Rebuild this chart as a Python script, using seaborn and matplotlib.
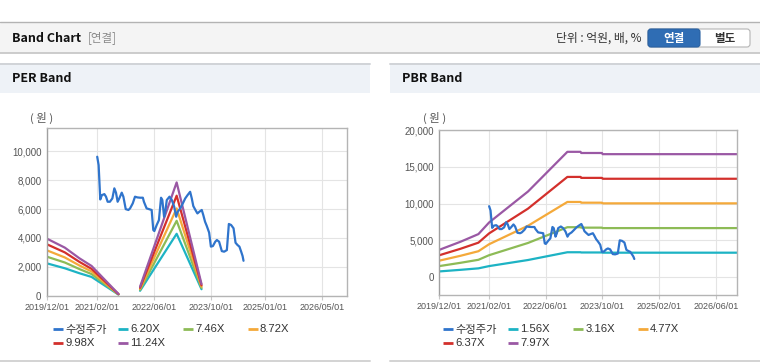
import numpy as np
import pandas as pd
import matplotlib
matplotlib.use("Agg")
import matplotlib.pyplot as plt
import matplotlib.dates as mdates
from matplotlib.patches import Rectangle, FancyBboxPatch
from matplotlib.ticker import FuncFormatter
import seaborn as sns

# ---------------- data ----------------
price_dates = [
    "2021-02-01", "2021-02-13", "2021-02-27", "2021-03-13", "2021-04-03", "2021-04-17",
    "2021-05-01", "2021-05-20", "2021-06-10", "2021-06-27", "2021-07-11", "2021-07-25",
    "2021-08-08", "2021-08-29", "2021-09-12", "2021-10-02", "2021-10-25", "2021-11-08",
    "2021-12-01", "2021-12-20", "2022-01-10", "2022-02-02", "2022-02-25", "2022-03-06",
    "2022-03-29", "2022-04-18", "2022-05-11", "2022-05-25", "2022-06-03", "2022-06-23",
    "2022-07-12", "2022-07-30", "2022-08-10", "2022-08-25", "2022-09-06", "2022-09-17",
    "2022-10-10", "2022-10-30", "2022-11-19", "2022-12-06", "2022-12-19", "2023-01-10",
    "2023-02-01", "2023-02-21", "2023-03-13", "2023-04-04", "2023-04-18", "2023-05-01",
    "2023-05-19", "2023-06-05", "2023-06-22", "2023-07-12", "2023-07-25", "2023-08-09",
    "2023-08-24", "2023-09-13", "2023-09-28", "2023-10-15", "2023-11-04", "2023-11-18",
    "2023-12-07", "2023-12-30", "2024-01-19", "2024-02-11", "2024-02-28", "2024-03-18",
    "2024-04-08", "2024-04-25", "2024-05-12", "2024-05-28", "2024-06-12", "2024-06-24",
    "2024-07-02",
]
price_values = [
    9630, 9050, 6670, 6970, 7040, 6860,
    6510, 6510, 6740, 7440, 7140, 6510,
    6740, 7140, 6860, 6000, 5940, 6050,
    6400, 6860, 6810, 6790, 6790, 6510,
    6050, 6000, 5940, 4550, 4480, 4900,
    5240, 6790, 6630, 5470, 5940, 6630,
    6860, 6630, 6170, 5470, 5820, 6050,
    6400, 6740, 6970, 7200, 6740, 6210,
    5940, 5700, 5820, 5940, 5590, 5130,
    4830, 4370, 3400, 3440, 3740, 3860,
    3740, 3090, 3050, 3160, 4970, 4900,
    4670, 3670, 3510, 3400, 3050, 2750,
    2420,
]

# PER band: two separate segments
per_labels = ["6.20X", "7.46X", "8.72X", "9.98X", "11.24X"]
per_seg1_dates = ["2019-12-01", "2020-05-01", "2020-09-01", "2020-12-15", "2021-08-01"]
per_seg1 = {
    "6.20X":  [2240, 1900, 1560, 1300, 80],
    "7.46X":  [2700, 2300, 1850, 1500, 90],
    "8.72X":  [3140, 2650, 2100, 1680, 100],
    "9.98X":  [3560, 3000, 2350, 1860, 110],
    "11.24X": [3950, 3330, 2600, 2060, 120],
}
per_seg2_dates = ["2022-02-01", "2022-12-10", "2023-07-10"]
per_seg2 = {
    "6.20X":  [340, 4290, 450],
    "7.46X":  [410, 5190, 540],
    "8.72X":  [480, 6050, 630],
    "9.98X":  [550, 6930, 720],
    "11.24X": [620, 7850, 810],
}

# PBR band
pbr_labels = ["1.56X", "3.16X", "4.77X", "6.37X", "7.97X"]
pbr_dates = ["2019-12-01", "2020-06-01", "2020-11-01", "2021-02-01", "2022-01-01",
             "2022-12-05", "2023-03-28", "2023-04-03", "2023-09-28", "2023-10-04",
             "2026-12-01"]
pbr_values = {
    "1.56X": [720, 940, 1140, 1450, 2280, 3340, 3340, 3310, 3310, 3280, 3280],
    "3.16X": [1450, 1900, 2310, 2940, 4610, 6760, 6760, 6700, 6700, 6640, 6640],
    "4.77X": [2190, 2860, 3480, 4440, 6960, 10210, 10210, 10110, 10110, 10020, 10020],
    "6.37X": [2930, 3820, 4650, 5920, 9300, 13630, 13630, 13500, 13500, 13380, 13380],
    "7.97X": [3670, 4780, 5820, 7410, 11640, 17060, 17060, 16900, 16900, 16740, 16740],
}

price_label = "수정주가"
band_colors = ["#1db3c4", "#8dbb56", "#f4a93a", "#d3302c", "#9a58a4"]
price_color = "#2f74cc"

per_ticks = ["2019/12/01", "2021/02/01", "2022/06/01", "2023/10/01", "2025/01/01", "2026/05/01"]
pbr_ticks = ["2019/12/01", "2021/02/01", "2022/06/01", "2023/10/01", "2025/02/01", "2026/06/01"]
x_start, x_end = "2019-12-01", "2026-12-01"

# ---------------- frames ----------------
price_df = pd.DataFrame({"date": pd.to_datetime(price_dates), "value": price_values})

rows = []
for seg_id, (dts, vals) in enumerate([(per_seg1_dates, per_seg1), (per_seg2_dates, per_seg2)]):
    for lab in per_labels:
        for d, v in zip(dts, vals[lab]):
            rows.append({"date": pd.Timestamp(d), "value": v, "band": lab, "seg": seg_id})
per_df = pd.DataFrame(rows)

rows = []
for lab in pbr_labels:
    for d, v in zip(pbr_dates, pbr_values[lab]):
        rows.append({"date": pd.Timestamp(d), "value": v, "band": lab, "seg": 0})
pbr_df = pd.DataFrame(rows)

# ---------------- figure ----------------
sns.set_theme(style="white")
plt.rcParams['font.family'] = ['Liberation Sans', 'Noto Sans CJK KR', 'DejaVu Sans']
KR = ['Noto Sans CJK KR', 'DejaVu Sans']

W, H = 760, 364
fig = plt.figure(figsize=(7.6, 3.64), dpi=100)
fig.patch.set_facecolor("white")

bg = fig.add_axes([0, 0, 1, 1])
bg.set_xlim(0, W)
bg.set_ylim(H, 0)
bg.axis("off")

# top header
bg.add_patch(Rectangle((0, 22.5), W, 30, facecolor="#f4f4f4", edgecolor="none"))
bg.plot([0, W], [22.2, 22.2], color="#b3b3b3", lw=1.0)
bg.plot([0, W], [52.8, 52.8], color="#c4c4c4", lw=1.2)
bg.text(12, 38, "Band Chart", fontsize=9, fontweight="bold", color="#111", va="center", family=KR)
bg.text(88, 38, "[연결]", fontsize=8.3, color="#8a8a8a", va="center", family=KR)
bg.text(641, 38, "단위 : 억원, 배, %", fontsize=8.5, color="#333", va="center", ha="right", family=KR)
bg.add_patch(FancyBboxPatch((648, 29), 102, 18, boxstyle="round,pad=0,rounding_size=3",
                            facecolor="white", edgecolor="#b5b5b5", lw=0.8))
bg.add_patch(FancyBboxPatch((648, 29), 52, 18, boxstyle="round,pad=0,rounding_size=3",
                            facecolor="#2f6db4", edgecolor="#2a62a3", lw=0.8))
bg.text(674, 38.3, "연결", fontsize=8.3, color="white", fontweight="bold", ha="center", va="center", family=KR)
bg.text(725, 38.3, "별도", fontsize=8.3, color="#333", fontweight="bold", ha="center", va="center", family=KR)

# panel headers
for x0, x1, title in [(0, 370, "PER Band"), (390, 760, "PBR Band")]:
    bg.add_patch(Rectangle((x0, 64.5), x1 - x0, 28.5, facecolor="#eef2f7", edgecolor="none"))
    bg.plot([x0, x1], [64.3, 64.3], color="#d0d3d7", lw=1.4)
    bg.plot([x0, x1], [361, 361], color="#d3d3d3", lw=1.4)
    bg.text(x0 + 12, 79, title, fontsize=9, fontweight="bold", color="#111", va="center", family=KR)

bg.text(42, 118, "( 원 )", fontsize=8.2, color="#555", ha="center", va="center", family=KR)
bg.text(435, 118, "( 원 )", fontsize=8.2, color="#555", ha="center", va="center", family=KR)

# legends (manual placement)
def draw_legend(x_cols, labels, colors):
    pos = [(x_cols[0], 329), (x_cols[1], 329), (x_cols[2], 329), (x_cols[3], 329),
           (x_cols[0], 343), (x_cols[1], 343)]
    for (x, y), lab, col in zip(pos, labels, colors):
        bg.plot([x, x + 10.5], [y, y], color=col, lw=2.0, solid_capstyle="butt")
        bg.text(x + 12.5, y + 0.5, lab, fontsize=8.1, color="#333", va="center", ha="left")

draw_legend([52.7, 117.5, 182.5, 247.5], [price_label] + per_labels, [price_color] + band_colors)
draw_legend([442.7, 507.7, 572.7, 637.7], [price_label] + pbr_labels, [price_color] + band_colors)

# chart axes
ax1 = fig.add_axes([47 / W, 1 - 295.7 / H, 300 / W, (295.7 - 128.3) / H])
ax2 = fig.add_axes([439.3 / W, 1 - 295 / H, 297.7 / W, (295 - 130.3) / H])

lw = 1.6
for ax, bdf, labels, ticks, ylim, yticks in [
    (ax1, per_df, per_labels, per_ticks, (0, 11600), np.arange(0, 10001, 2000)),
    (ax2, pbr_df, pbr_labels, pbr_ticks, (-2500, 20000), np.arange(0, 20001, 5000)),
]:
    ax.set_facecolor("white")
    sns.lineplot(data=price_df, x="date", y="value", ax=ax, color=price_color, lw=lw,
                 legend=False, zorder=3)
    sns.lineplot(data=bdf, x="date", y="value", hue="band", hue_order=labels,
                 palette=dict(zip(labels, band_colors)), units="seg", estimator=None,
                 sort=False, ax=ax, lw=lw, legend=False, zorder=2)
    ax.set_xlim(pd.Timestamp(x_start), pd.Timestamp(x_end))
    ax.set_xticks([pd.Timestamp(t.replace("/", "-")) for t in ticks])
    ax.xaxis.set_major_formatter(mdates.DateFormatter("%Y/%m/%d"))
    ax.set_ylim(*ylim)
    ax.set_yticks(yticks)
    ax.yaxis.set_major_formatter(FuncFormatter(lambda v, p: f"{v:,.0f}"))
    ax.set_xlabel("")
    ax.set_ylabel("")
    ax.grid(True, color="#e4e4e4", lw=0.8)
    ax.set_axisbelow(True)
    for s in ax.spines.values():
        s.set_visible(True)
        s.set_color("#b4b4b4")
        s.set_linewidth(1.0)
    ax.spines["left"].set_color("#a0a0a0")
    ax.tick_params(axis="x", labelsize=6.5, colors="#555", length=3, width=0.8, pad=2,
                   color="#c8c8c8", bottom=True)
    ax.tick_params(axis="y", labelsize=7.0, colors="#555", length=0, pad=4)
    for t in ax.get_xticklabels():
        t.set_color("#555")

fig.savefig("out.png", dpi=100, facecolor="white")
